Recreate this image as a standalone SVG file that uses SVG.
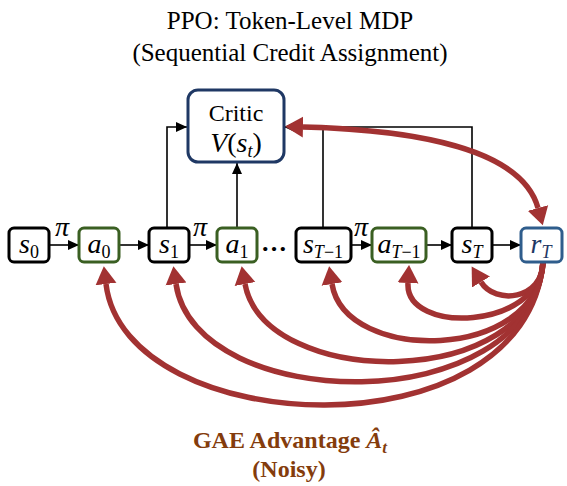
<svg xmlns="http://www.w3.org/2000/svg" width="567" height="486" viewBox="0 0 567 486" font-family="Liberation Serif, serif">
<style>
.title{font-size:25px;fill:#000;}
.box{fill:#fff;stroke-width:3;}
.st{stroke:#000;}
.ac{stroke:#3A5F22;}
.rw{stroke:#2F5D8C;}
.cr{stroke:#1F3864;}
.m{font-size:28px;font-style:italic;}
.sub{font-size:18px;}
.up{font-style:normal;}
.blk{fill:none;stroke:#000;stroke-width:1.6;}
.red{fill:none;stroke:#A23232;stroke-width:5.5;}
.gae{font-size:24px;font-weight:bold;fill:#843C0C;}
</style>
<defs>
<marker id="ab" markerUnits="userSpaceOnUse" markerWidth="12" markerHeight="12" viewBox="0 0 12 12" refX="11" refY="6" orient="auto"><path d="M0,1 L11,6 L0,11 z" fill="#000"/></marker>
<marker id="ar" markerUnits="userSpaceOnUse" markerWidth="20" markerHeight="22" viewBox="0 -11 20 22" refX="0" refY="0" orient="auto-start-reverse"><path d="M0,-10.5 L18,0 L0,10.5 z" fill="#A23232"/></marker>
</defs>

<g id="title">
<text class="title" x="290" y="29" text-anchor="middle">PPO: Token-Level MDP</text>
<text class="title" x="290" y="61" text-anchor="middle">(Sequential Credit Assignment)</text>
</g>

<g id="connectors">
<line class="blk" x1="49" y1="245" x2="79" y2="245" marker-end="url(#ab)"/>
<line class="blk" x1="119" y1="245" x2="149" y2="245" marker-end="url(#ab)"/>
<line class="blk" x1="189" y1="245" x2="217" y2="245" marker-end="url(#ab)"/>
<line class="blk" x1="351" y1="245" x2="372" y2="245" marker-end="url(#ab)"/>
<line class="blk" x1="426" y1="245" x2="452" y2="245" marker-end="url(#ab)"/>
<line class="blk" x1="492" y1="245" x2="521" y2="245" marker-end="url(#ab)"/>
<polyline class="blk" points="167,228 167,127 187,127" marker-end="url(#ab)"/>
<line class="blk" x1="237" y1="228" x2="237" y2="163" marker-end="url(#ab)"/>
<polyline class="blk" points="323,228 323,127"/>
<polyline class="blk" points="472,228 472,127 284,127" marker-end="url(#ab)"/>
<text class="m" x="62" y="236" text-anchor="middle" font-size="21">π</text>
<text class="m" x="200" y="236" text-anchor="middle" font-size="21">π</text>
<text class="m" x="361" y="236" text-anchor="middle" font-size="21">π</text>
<path class="red" d="M 303 127 C 420 130, 522 150, 538 208" marker-start="url(#ar)" marker-end="url(#ar)"/>
<path class="red" d="M 543 262 C 543 300, 495 305, 481 282" marker-end="url(#ar)"/>
<path class="red" d="M 543 262 C 540 330, 405 335, 408 283" marker-end="url(#ar)"/>
<path class="red" d="M 543 262 C 538 362, 345 364, 332 284" marker-end="url(#ar)"/>
<path class="red" d="M 543 262 C 535 392, 265 390, 245 284" marker-end="url(#ar)"/>
<path class="red" d="M 543 262 C 530 422, 195 414, 176 284" marker-end="url(#ar)"/>
<path class="red" d="M 543 262 C 525 458, 125 440, 106 284" marker-end="url(#ar)"/>
</g>

<g id="critic">
<rect class="box cr" x="188" y="90" width="96" height="72" rx="10"/>
<text x="236" y="121" text-anchor="middle" font-size="24">Critic</text>
<text class="m" x="236" y="152" text-anchor="middle" font-size="25">V<tspan class="up">(</tspan>s<tspan class="sub" dy="5">t</tspan><tspan class="up" dy="-5">)</tspan></text>
</g>

<g id="s0"><rect class="box st" x="9" y="228" width="40" height="34" rx="5"/><text class="m" x="29" y="253" text-anchor="middle">s<tspan class="sub up" dy="5">0</tspan></text></g>
<g id="a0"><rect class="box ac" x="79" y="228" width="40" height="34" rx="5"/><text class="m" x="99" y="253" text-anchor="middle">a<tspan class="sub up" dy="5">0</tspan></text></g>
<g id="s1"><rect class="box st" x="149" y="228" width="40" height="34" rx="5"/><text class="m" x="169" y="253" text-anchor="middle">s<tspan class="sub up" dy="5">1</tspan></text></g>
<g id="a1"><rect class="box ac" x="217" y="228" width="40" height="34" rx="5"/><text class="m" x="237" y="253" text-anchor="middle">a<tspan class="sub up" dy="5">1</tspan></text></g>
<g id="dots"><text x="274" y="251" text-anchor="middle" font-size="26" font-weight="bold">…</text></g>
<g id="sT-1"><rect class="box st" x="296" y="228" width="55" height="34" rx="5"/><text class="m" x="323" y="253" text-anchor="middle">s<tspan class="sub" dy="5">T<tspan class="up">−1</tspan></tspan></text></g>
<g id="aT-1"><rect class="box ac" x="372" y="228" width="54" height="34" rx="5"/><text class="m" x="399" y="253" text-anchor="middle">a<tspan class="sub" dy="5">T<tspan class="up">−1</tspan></tspan></text></g>
<g id="sT"><rect class="box st" x="452" y="228" width="40" height="34" rx="5"/><text class="m" x="472" y="253" text-anchor="middle">s<tspan class="sub" dy="5">T</tspan></text></g>
<g id="rT"><rect class="box rw" x="521" y="228" width="41" height="34" rx="5"/><text class="m" x="541" y="253" text-anchor="middle" fill="#1F3864">r<tspan class="sub" dy="5">T</tspan></text></g>

<g id="gae">
<text class="gae" x="290" y="448" text-anchor="middle">GAE Advantage <tspan font-style="italic">Â<tspan font-size="17" dy="5">t</tspan></tspan></text>
<text class="gae" x="289" y="477" text-anchor="middle">(Noisy)</text>
</g>
</svg>
